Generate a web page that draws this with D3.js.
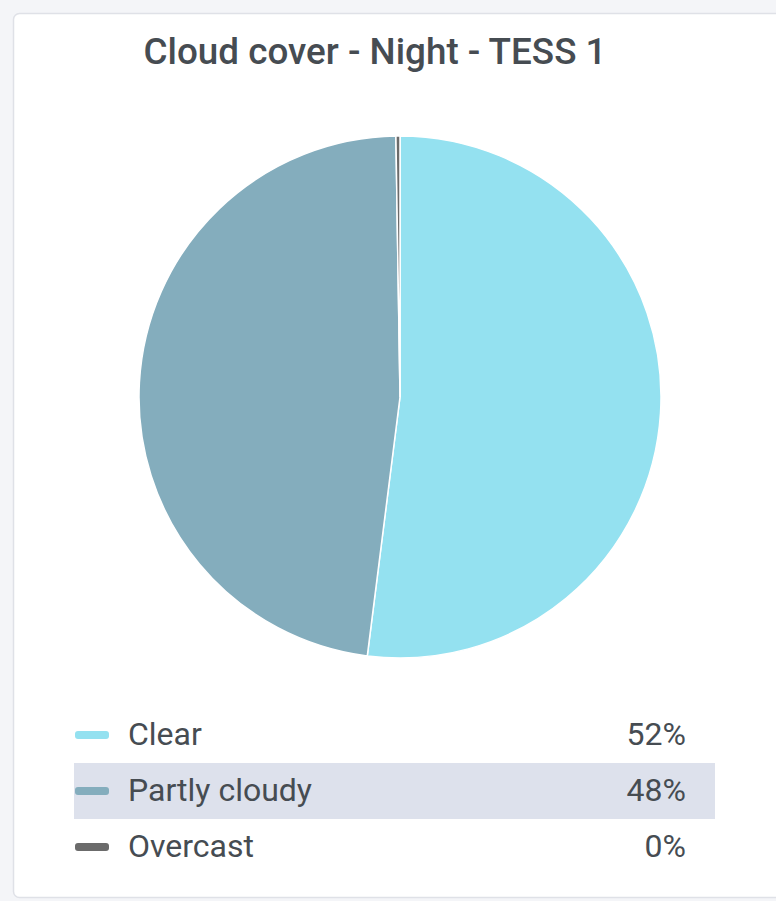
<!DOCTYPE html>
<html lang="en">

<head>
  <meta charset="UTF-8">
  <title>Cloud cover</title>
  <script src="https://cdn.jsdelivr.net/npm/d3@7"></script>
  <style>
    body { margin: 0; background: #f4f5f8; }
    text { font-family: Roboto, "Noto Sans", sans-serif; fill: #464c52; }
  </style>
</head>

<body>
  <script>
    const labels = ["Clear", "Partly cloudy", "Overcast"];
    const values = [52.0, 47.75, 0.25];
    const pctLabels = ["52%", "48%", "0%"];
    const colors = ["#94e1f0", "#84adbd", "#6b6b6b"];
    const highlighted = "Partly cloudy";

    const width = 776;
    const height = 901;
    const cx = 400, cy = 397, radius = 261;

    let svg = d3.select("body")
      .append("svg")
      .attr("width", width)
      .attr("height", height);

    // panel
    svg.append("rect")
      .attr("x", 13.5)
      .attr("y", 13.5)
      .attr("width", width + 20)
      .attr("height", 884)
      .attr("rx", 6)
      .attr("fill", "#fff")
      .attr("stroke", "#dfe1e7")
      .attr("stroke-width", 1.5);

    svg.append("text")
      .attr("x", 375)
      .attr("y", 64)
      .attr("text-anchor", "middle")
      .attr("font-size", 36)
      .attr("font-weight", 500)
      .attr("textLength", 463)
      .attr("lengthAdjust", "spacingAndGlyphs")
      .text("Cloud cover - Night - TESS 1");

    const color = d3.scaleOrdinal().domain(labels).range(colors);

    const pie = d3.pie().sort(null).value(d => d.value);
    const arc = d3.arc().innerRadius(0).outerRadius(radius);
    const data = labels.map((l, i) => ({ label: l, value: values[i], pct: pctLabels[i] }));

    svg.append("g")
      .attr("transform", `translate(${cx},${cy})`)
      .selectAll("path")
      .data(pie(data))
      .join("path")
      .attr("d", arc)
      .attr("fill", d => color(d.data.label))
      .attr("stroke", "#fff")
      .attr("stroke-width", 1.5);

    // legend
    const rowY = d3.scaleBand().domain(labels).range([707, 875]);

    const legend = svg.append("g");
    const rows = legend.selectAll("g")
      .data(data)
      .join("g")
      .attr("transform", d => `translate(0,${rowY(d.label)})`);

    rows.filter(d => d.label === highlighted)
      .append("rect")
      .attr("x", 74)
      .attr("y", 0)
      .attr("width", 641)
      .attr("height", rowY.bandwidth())
      .attr("fill", "#dde1ec");

    rows.append("rect")
      .attr("x", 75)
      .attr("y", rowY.bandwidth() / 2 - 4)
      .attr("width", 34)
      .attr("height", 8)
      .attr("rx", 3)
      .attr("fill", d => color(d.label));

    rows.append("text")
      .attr("x", 128)
      .attr("y", rowY.bandwidth() / 2 + 10)
      .attr("font-size", 32)
      .text(d => d.label);

    rows.append("text")
      .attr("x", 686)
      .attr("y", rowY.bandwidth() / 2 + 10)
      .attr("text-anchor", "end")
      .attr("font-size", 32)
      .text(d => d.pct);
  </script>
</body>

</html>
